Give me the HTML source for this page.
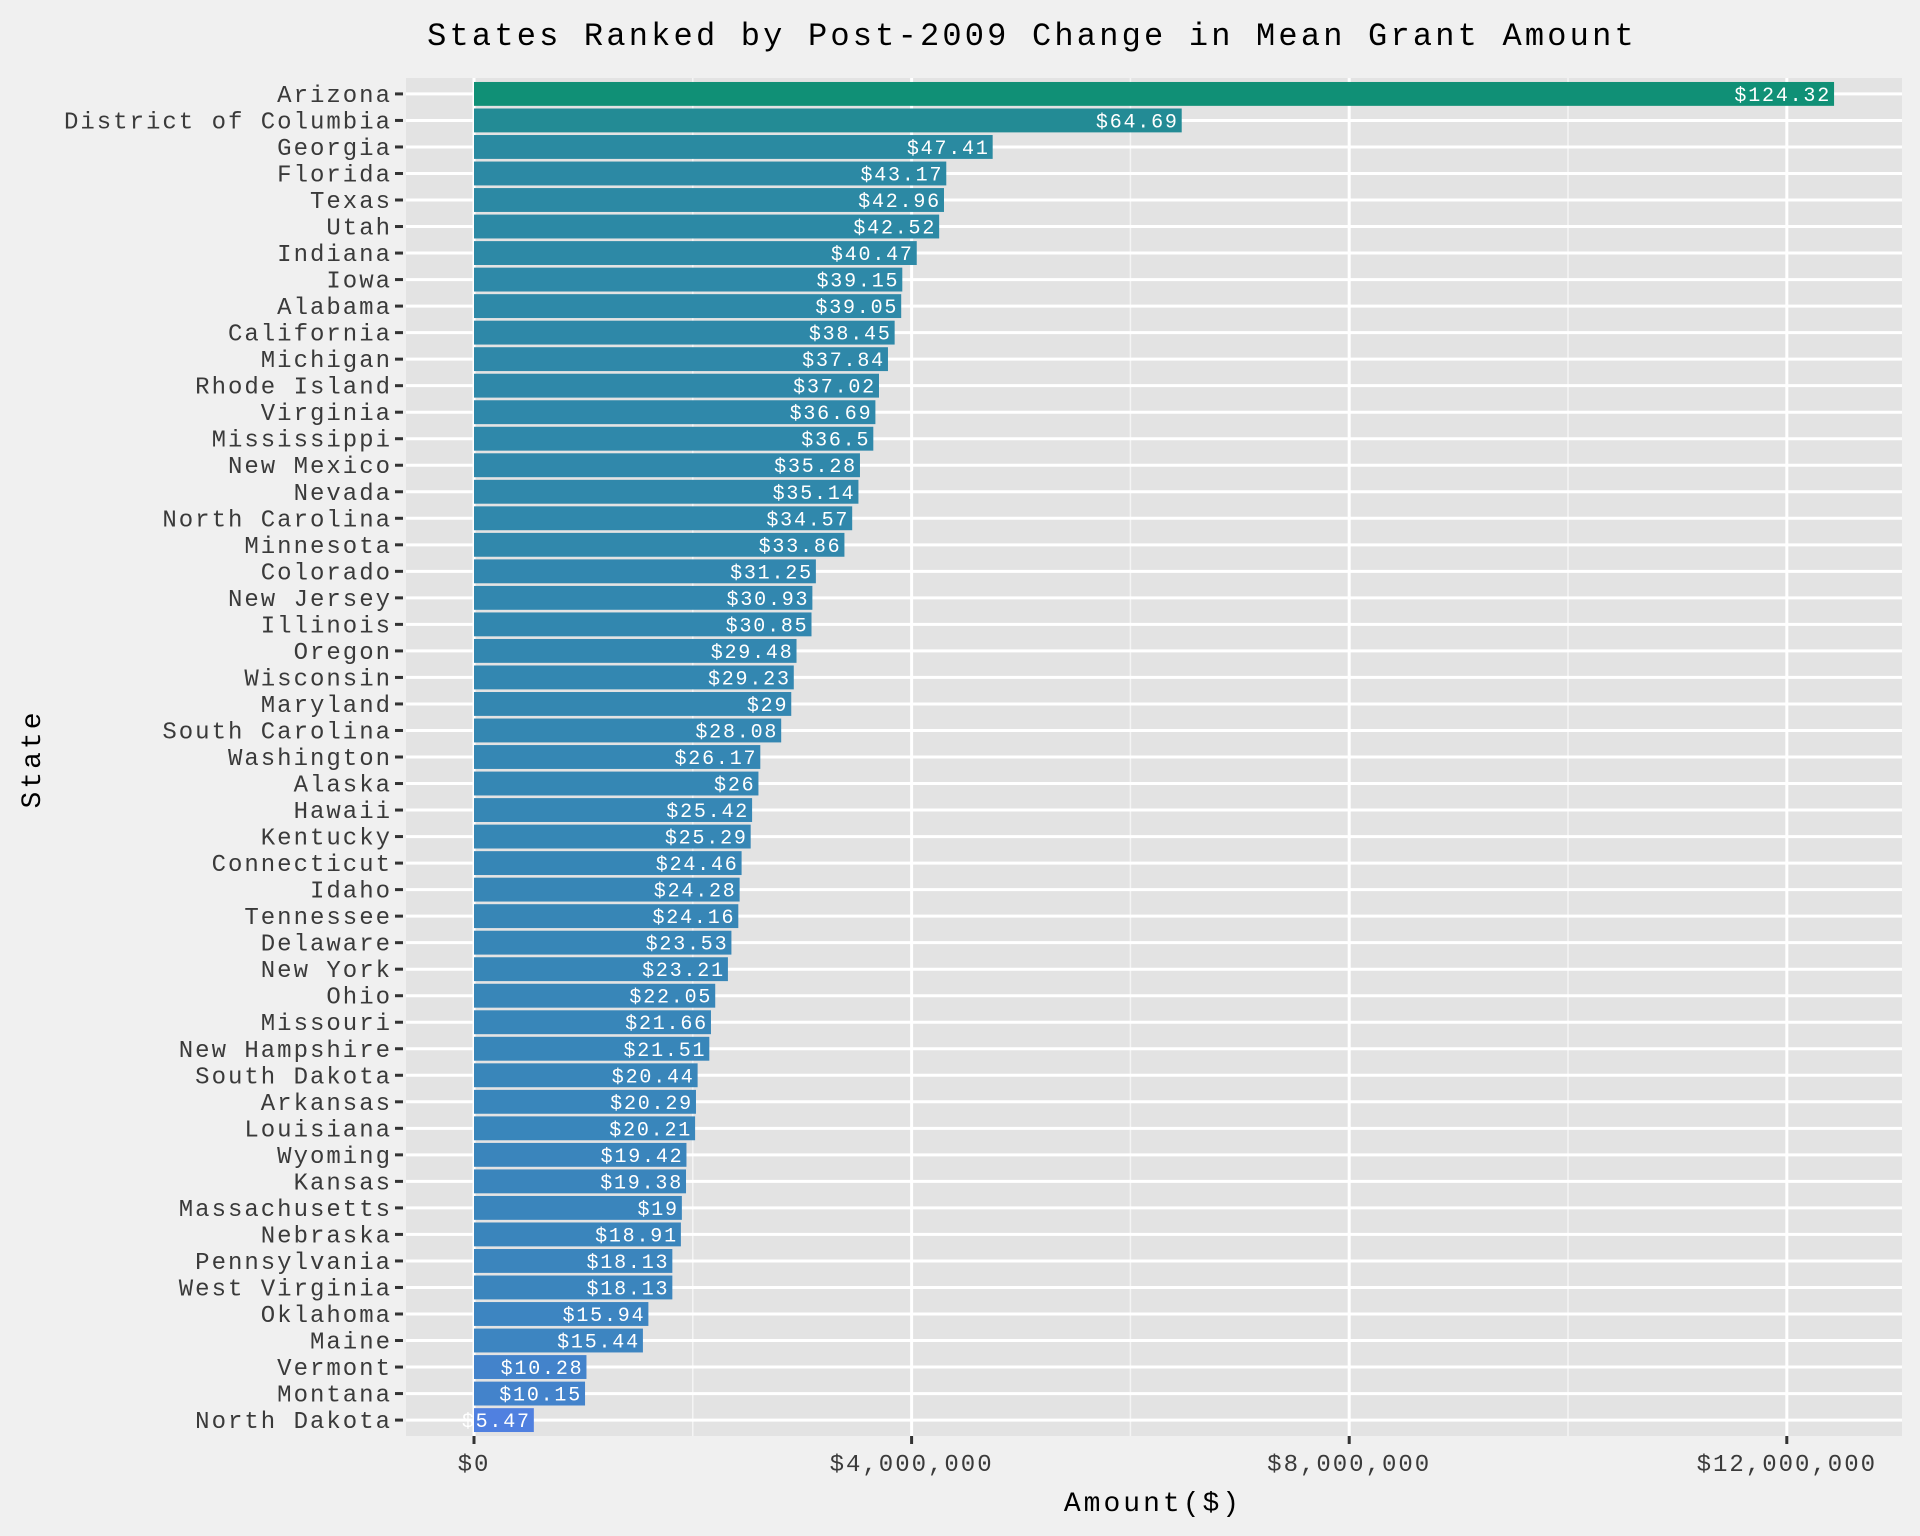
<!DOCTYPE html>
<html><head><meta charset="utf-8">
<style>
html,body{margin:0;padding:0;background:#f0f0f0;}
svg{display:block;}
text{font-family:"Liberation Mono",monospace;}
</style></head>
<body>
<svg id="chart" width="1920" height="1536" viewBox="0 0 1920 1536" xmlns="http://www.w3.org/2000/svg">
<rect x="0" y="0" width="1920" height="1536" fill="#f0f0f0"/>
<text x="1032" y="45" text-anchor="middle" font-size="32" letter-spacing="3.2" fill="#000">States Ranked by Post-2009 Change in Mean Grant Amount</text>
<g id="plot"></g>
<text x="1153" y="1511" text-anchor="middle" font-size="28" letter-spacing="3" fill="#000">Amount($)</text>
<text transform="translate(40,759) rotate(-90)" text-anchor="middle" font-size="28" letter-spacing="3" fill="#000">State</text>
</svg>
<script>
const states = ["Arizona","District of Columbia","Georgia","Florida","Texas","Utah","Indiana","Iowa","Alabama","California","Michigan","Rhode Island","Virginia","Mississippi","New Mexico","Nevada","North Carolina","Minnesota","Colorado","New Jersey","Illinois","Oregon","Wisconsin","Maryland","South Carolina","Washington","Alaska","Hawaii","Kentucky","Connecticut","Idaho","Tennessee","Delaware","New York","Ohio","Missouri","New Hampshire","South Dakota","Arkansas","Louisiana","Wyoming","Kansas","Massachusetts","Nebraska","Pennsylvania","West Virginia","Oklahoma","Maine","Vermont","Montana","North Dakota"];
const labels = ["$124.32","$64.69","$47.41","$43.17","$42.96","$42.52","$40.47","$39.15","$39.05","$38.45","$37.84","$37.02","$36.69","$36.5","$35.28","$35.14","$34.57","$33.86","$31.25","$30.93","$30.85","$29.48","$29.23","$29","$28.08","$26.17","$26","$25.42","$25.29","$24.46","$24.28","$24.16","$23.53","$23.21","$22.05","$21.66","$21.51","$20.44","$20.29","$20.21","$19.42","$19.38","$19","$18.91","$18.13","$18.13","$15.94","$15.44","$10.28","$10.15","$5.47"];
const amounts = [12432000,6469000,4741000,4317000,4296000,4252000,4047000,3915000,3905000,3845000,3784000,3702000,3669000,3650000,3528000,3514000,3457000,3386000,3125000,3093000,3085000,2948000,2923000,2900000,2808000,2617000,2600000,2542000,2529000,2446000,2428000,2416000,2353000,2321000,2205000,2166000,2151000,2044000,2029000,2021000,1942000,1938000,1900000,1891000,1813000,1813000,1594000,1544000,1028000,1015000,547000];
const xTicks = [0,4000000,8000000,12000000];
const xTickLabels = ["$0","$4,000,000","$8,000,000","$12,000,000"];
const xMinor = [2000000,6000000,10000000];

const NS="http://www.w3.org/2000/svg";
const PL=406, PR=1902, PT=78, PB=1436;
const X0=474, PX_PER=437.6/4000000;
const n = states.length;
const step = (PB-PT)/(n-1+1.2);
const x = v => X0 + v*PX_PER;
const y = i => PT + step*(0.6+i);
const g = document.getElementById('plot');
function mk(tag, attrs){const e=document.createElementNS(NS,tag);for(const k in attrs)e.setAttribute(k,attrs[k]);return e;}

const panel = mk('rect',{x:PL,y:PT,width:PR-PL,height:PB-PT,fill:'#e3e3e3'});


g.appendChild(panel);

xMinor.forEach(v=>{
  const l=mk('line',{x1:x(v),x2:x(v),y1:PT,y2:PB,stroke:'#f4f4f4','stroke-width':1.5});
  
  
  g.appendChild(l);
});
xTicks.forEach((v,i)=>{
  const l=mk('line',{x1:x(v),x2:x(v),y1:PT,y2:PB,stroke:'#fff','stroke-width':3});
  
  
  g.appendChild(l);
  const t=mk('line',{x1:x(v),x2:x(v),y1:PB,y2:PB+8,stroke:'#333','stroke-width':3});
  
  
  g.appendChild(t);
  const tx=mk('text',{x:x(v),y:1471,'text-anchor':'middle','font-size':24,'letter-spacing':2,fill:'#3a3a3a'});
  tx.textContent=xTickLabels[i];
  
  
  g.appendChild(tx);
});
states.forEach((s,i)=>{
  const l=mk('line',{x1:PL,x2:PR,y1:y(i),y2:y(i),stroke:'#fff','stroke-width':3});
  
  
  g.appendChild(l);
});
const vmin=Math.min(...amounts), vmax=Math.max(...amounts);
const lo=[80,128,224], hi=[16,144,118];
function col(v){const t=Math.sqrt((v-vmin)/(vmax-vmin));const c=lo.map((a,k)=>Math.round(a+(hi[k]-a)*t));return `rgb(${c[0]},${c[1]},${c[2]})`;}
states.forEach((s,i)=>{
  const bh=step*0.9;
  const b=mk('rect',{x:x(0),y:y(i)-bh/2,width:x(amounts[i])-x(0),height:bh,fill:col(amounts[i])});
  
  
  g.appendChild(b);
  const vl=mk('text',{x:x(amounts[i])-3,y:y(i)+7,'text-anchor':'end','font-size':20,'letter-spacing':1.8,fill:'#fff'});
  vl.textContent=labels[i];
  
  
  g.appendChild(vl);
  const t=mk('line',{x1:PL-11,x2:PL-3,y1:y(i),y2:y(i),stroke:'#333','stroke-width':3});
  
  
  g.appendChild(t);
  const tl=mk('text',{x:PL-14,y:y(i)+8,'text-anchor':'end','font-size':24,'letter-spacing':2,fill:'#3a3a3a'});
  tl.textContent=s;
  
  
  g.appendChild(tl);
});
</script>
</body></html>
